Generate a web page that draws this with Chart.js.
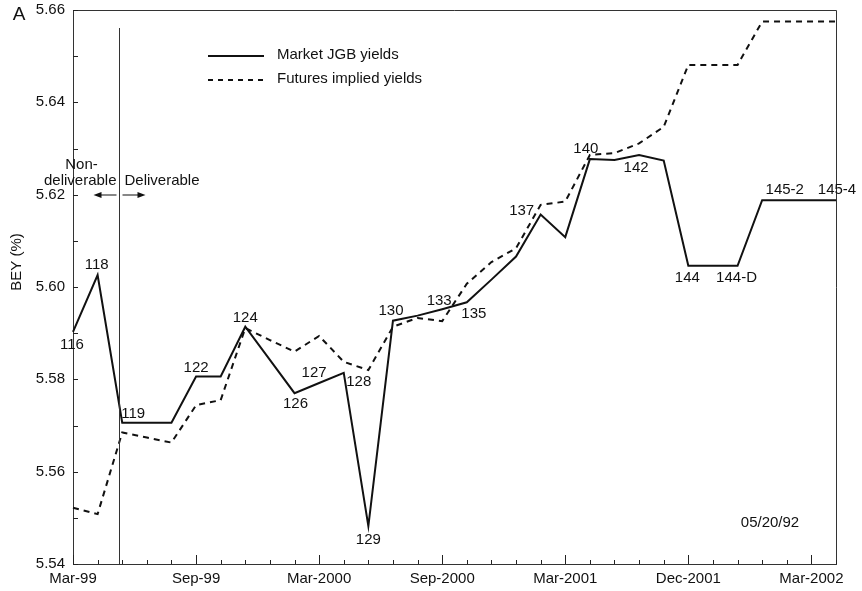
<!DOCTYPE html>
<html>
<head>
<meta charset="utf-8">
<script src="https://cdn.jsdelivr.net/npm/chart.js@4"></script>
<style>
  html, body { margin: 0; padding: 0; background: #fff; }
  #wrap { width: 862px; height: 591px; }
</style>
</head>
<body>
<div id="wrap"><canvas id="c" width="862" height="591"></canvas></div>
<script>
// Contract positions along the horizontal axis (only some carry a date label)
const xLabels = ['Mar-99', '', '', '', '', 'Sep-99', '', '', '', '', 'Mar-2000', '', '', '', '', 'Sep-2000', '', '', '', '',
                 'Mar-2001', '', '', '', '', 'Dec-2001', '', '', '', '', 'Mar-2002', ''];

// Bond-equivalent yields (%)
const marketYields = [5.5903, 5.6026, 5.5706, 5.5706, 5.5706, 5.5806, 5.5806, 5.5914, 5.5842, 5.5770, 5.5792, 5.5814,
                      5.5482, 5.5927, 5.5938, 5.5952, 5.5967, 5.6016, 5.6066, 5.6157, 5.6108, 5.6277, 5.6275, 5.6286,
                      5.6274, 5.6046, 5.6046, 5.6046, 5.6188, 5.6188, 5.6188, 5.6188];
const futuresYields = [5.5522, 5.5508, 5.5685, 5.5674, 5.5663, 5.5744, 5.5755, 5.5911, 5.5885, 5.5860, 5.5894, 5.5838,
                       5.5820, 5.5914, 5.5933, 5.5926, 5.6007, 5.6054, 5.6084, 5.6178, 5.6185, 5.6286, 5.6290, 5.6311,
                       5.6347, 5.6481, 5.6481, 5.6481, 5.6575, 5.6575, 5.6575, 5.6575];

// Cheapest-to-deliver issue numbers marked on the market yield line
const issueLabels = ['116', '118', '119', '', '', '122', '', '124', '', '126', '127', '128', '129', '130', '', '133', '135', '',
                     '', '137', '', '140', '', '142', '', '144', '', '144-D', '', '145-2', '', '145-4'];

const yTicks = { min: 5.54, max: 5.66, step: 0.02, minorStep: 0.01 };
const deliverableStart = 2;

const FONT = '"Liberation Sans", Arial, Helvetica, sans-serif';
const INK = '#111';

// Where each issue label sits relative to its point (dx, dy in px)
const labelOffset = {
  '116': [-1, 13], '118': [-1, -10], '119': [11, -9], '122': [0, -9], '124': [0, -9],
  '126': [1, 11], '127': [-5, -10], '128': [15, 9], '129': [0, 14], '130': [-2, -10],
  '133': [-3, -8], '135': [7, 12], '137': [-19, -4], '140': [-4, -10], '142': [-3, 13],
  '144': [-1, 12], '144-D': [-1, 12], '145-2': [-2, -10], '145-4': [1, -10]
};

const decorations = {
  id: 'decorations',
  afterDraw(chart) {
    const ctx = chart.ctx;
    const area = chart.chartArea;
    const xs = chart.scales.x, ys = chart.scales.y;
    ctx.save();

    // frame: top and right edges
    ctx.strokeStyle = '#333';
    ctx.lineWidth = 1;
    ctx.beginPath();
    ctx.moveTo(area.left, area.top + 0.5);
    ctx.lineTo(area.right + 0.5, area.top + 0.5);
    ctx.lineTo(area.right + 0.5, area.bottom);
    ctx.stroke();

    // inward tick marks on the x axis
    ctx.strokeStyle = '#222';
    ctx.beginPath();
    for (let i = 0; i < xLabels.length; i++) {
      const px = Math.round(xs.getPixelForValue(i)) + 0.5;
      const len = xLabels[i] ? 9 : 4;
      ctx.moveTo(px, area.bottom);
      ctx.lineTo(px, area.bottom - len);
    }
    // inward tick marks on the y axis
    for (let v = yTicks.min; v <= yTicks.max + 1e-9; v += yTicks.minorStep) {
      const py = Math.round(ys.getPixelForValue(v)) + 0.5;
      ctx.moveTo(area.left, py);
      ctx.lineTo(area.left + 5, py);
    }
    ctx.stroke();

    // boundary between non-deliverable and deliverable issues
    const bx = Math.round(xs.getPixelForValue(deliverableStart)) - 2.5;
    ctx.strokeStyle = '#333';
    ctx.beginPath();
    ctx.moveTo(bx, 28);
    ctx.lineTo(bx, area.bottom);
    ctx.stroke();

    ctx.fillStyle = INK;
    ctx.font = '15px ' + FONT;
    ctx.textBaseline = 'middle';
    ctx.textAlign = 'center';
    ctx.fillText('Non-', bx - 38, 165);
    ctx.textAlign = 'right';
    ctx.fillText('deliverable', bx - 3, 181);
    ctx.textAlign = 'left';
    ctx.fillText('Deliverable', bx + 5, 181);

    // arrows pointing away from the boundary
    const ay = 195;
    ctx.strokeStyle = INK;
    ctx.lineWidth = 1.2;
    ctx.beginPath();
    ctx.moveTo(bx - 3, ay); ctx.lineTo(bx - 20, ay);
    ctx.moveTo(bx + 3, ay); ctx.lineTo(bx + 20, ay);
    ctx.stroke();
    ctx.beginPath();
    ctx.moveTo(bx - 26, ay); ctx.lineTo(bx - 18, ay - 3); ctx.lineTo(bx - 18, ay + 3); ctx.closePath();
    ctx.moveTo(bx + 26, ay); ctx.lineTo(bx + 18, ay - 3); ctx.lineTo(bx + 18, ay + 3); ctx.closePath();
    ctx.fill();

    // issue numbers along the market yield line
    ctx.font = '15px ' + FONT;
    ctx.textAlign = 'center';
    ctx.textBaseline = 'middle';
    issueLabels.forEach((lab, i) => {
      if (!lab) return;
      const off = labelOffset[lab] || [0, -10];
      const px = xs.getPixelForValue(i);
      const py = ys.getPixelForValue(marketYields[i]);
      ctx.fillText(lab, px + off[0], py + off[1]);
    });

    // legend
    const lx0 = 208, lx1 = 264, tx = 277;
    ctx.lineWidth = 2;
    ctx.strokeStyle = INK;
    ctx.setLineDash([]);
    ctx.beginPath(); ctx.moveTo(lx0, 56); ctx.lineTo(lx1, 56); ctx.stroke();
    ctx.setLineDash([5, 5]);
    ctx.beginPath(); ctx.moveTo(lx0, 80); ctx.lineTo(lx1, 80); ctx.stroke();
    ctx.setLineDash([]);
    ctx.textAlign = 'left';
    ctx.font = '15px ' + FONT;
    ctx.fillText('Market JGB yields', tx, 55);
    ctx.fillText('Futures implied yields', tx, 79);

    // panel letter, axis title and date stamp
    ctx.font = '19px ' + FONT;
    ctx.textAlign = 'center';
    ctx.fillText('A', 19, 15);
    ctx.font = '15px ' + FONT;
    ctx.fillText('05/20/92', 770, 523);
    ctx.save();
    ctx.translate(17, 262);
    ctx.rotate(-Math.PI / 2);
    ctx.fillText('BEY (%)', 0, 0);
    ctx.restore();

    ctx.restore();
  }
};

new Chart(document.getElementById('c'), {
  type: 'line',
  data: {
    labels: xLabels,
    datasets: [
      {
        label: 'Market JGB yields',
        data: marketYields,
        borderColor: INK,
        borderWidth: 2,
        pointRadius: 0,
        tension: 0,
        fill: false
      },
      {
        label: 'Futures implied yields',
        data: futuresYields,
        borderColor: INK,
        borderWidth: 2,
        borderDash: [6, 5],
        pointRadius: 0,
        tension: 0,
        fill: false
      }
    ]
  },
  options: {
    responsive: false,
    animation: false,
    layout: { padding: { left: 0, right: 26, top: 10, bottom: 0 } },
    plugins: { legend: { display: false }, tooltip: { enabled: false } },
    scales: {
      x: {
        type: 'category',
        offset: false,
        grid: { display: false, drawTicks: false },
        border: { display: true, color: '#333', width: 1 },
        ticks: {
          autoSkip: false, maxRotation: 0, minRotation: 0, padding: 6,
          color: INK, font: { family: FONT, size: 15 }
        },
        afterFit(s) { s.height = 27; s.paddingLeft = 0; s.paddingRight = 0; }
      },
      y: {
        type: 'linear',
        min: yTicks.min, max: yTicks.max,
        grid: { display: false, drawTicks: false },
        border: { display: true, color: '#333', width: 1 },
        ticks: {
          stepSize: yTicks.step, padding: 8, color: INK,
          font: { family: FONT, size: 15 },
          callback: v => Number(v).toFixed(2)
        },
        afterFit(s) { s.width = 73; s.paddingTop = 0; s.paddingBottom = 0; }
      }
    }
  },
  plugins: [decorations]
});
</script>
</body>
</html>
